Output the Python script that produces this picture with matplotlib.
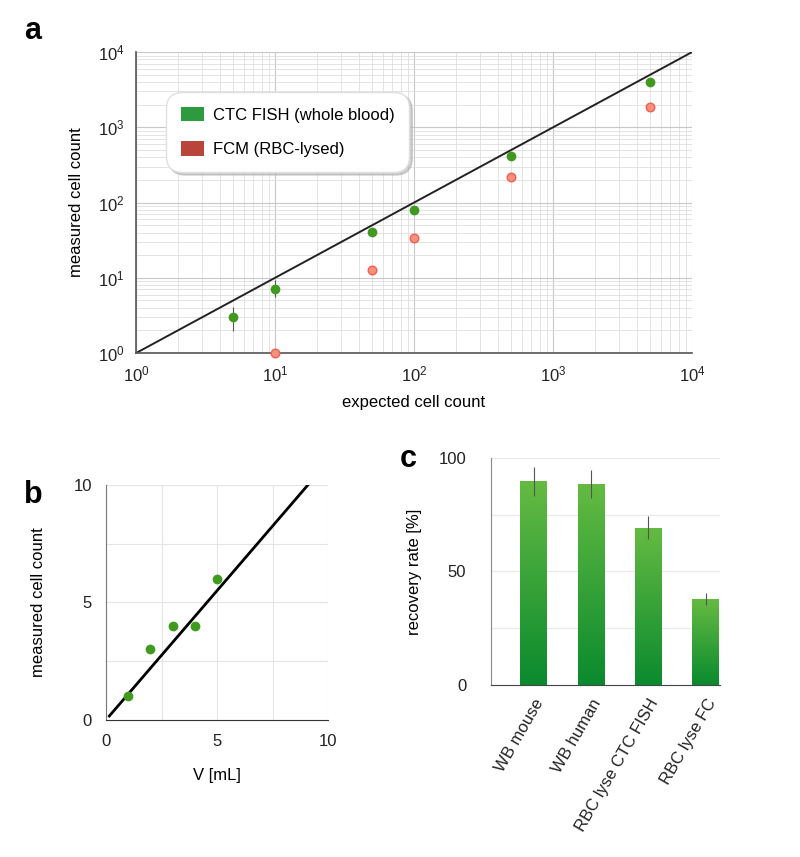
import numpy as np
import matplotlib
matplotlib.use("Agg")
import matplotlib.pyplot as plt
from matplotlib.patches import Patch
from matplotlib.colors import LinearSegmentedColormap

plt.rcParams['font.family'] = ['Liberation Sans', 'DejaVu Sans']
plt.rcParams['mathtext.fontset'] = 'custom'
plt.rcParams['mathtext.rm'] = 'Liberation Sans'

# panel a data
expected = [5, 10, 50, 100, 500, 5000]
fish_measured = [3.0, 7.2, 41, 80, 410, 3990]
fish_err_lo = [1.05, 1.6, 0, 0, 0, 0]
fish_err_hi = [1.1, 2.2, 0, 0, 0, 0]
fcm_expected = [10, 50, 100, 500, 5000]
fcm_measured = [1.0, 12.8, 33.7, 218, 1880]

# panel b data
volume = [1, 2, 3, 4, 5]
vol_count = [1, 3, 4, 4, 6]
fit_slope = 1.1

# panel c data
bar_labels = ['WB mouse', 'WB human', 'RBC lyse CTC FISH', 'RBC lyse FC']
recovery = [89.7, 88.6, 69.3, 37.8]
recovery_err = [6.3, 6.1, 4.9, 2.6]

green_pt = '#3f9a1e'
fcm_face = '#f8907f'
fcm_edge = '#f0604e'

fig = plt.figure(figsize=(8, 8.57), dpi=100)

# ---- panel a ----
ax = fig.add_axes([0.17, 0.588, 0.695, 0.3512])
ax.set_xscale('log')
ax.set_yscale('log')
ax.set_xlim(1, 1e4)
ax.set_ylim(1, 1e4)
ax.grid(True, which='major', color='#c8c8c8', lw=0.8)
ax.grid(True, which='minor', color='#dedede', lw=0.6)
ax.set_axisbelow(True)
ax.plot([1, 1e4], [1, 1e4], color='#222222', lw=1.4, zorder=2)
ax.errorbar(expected, fish_measured, yerr=[fish_err_lo, fish_err_hi], fmt='o',
            ms=6, color=green_pt, ecolor='#555555', elinewidth=0.8, capsize=0, zorder=4)
ax.scatter(fcm_expected, fcm_measured, s=38, facecolor=fcm_face, edgecolor=fcm_edge,
           lw=1.0, zorder=4, clip_on=False)
for s in ['top', 'right']:
    ax.spines[s].set_visible(False)
for s in ['left', 'bottom']:
    ax.spines[s].set_color('#555555')
    ax.spines[s].set_linewidth(1.2)
ax.tick_params(which='both', length=0, labelsize=12, colors='#222222', pad=8)
ax.set_xlabel('expected cell count', fontsize=12, labelpad=8)
ax.set_ylabel('measured cell count', fontsize=12, labelpad=10)
handles = [Patch(facecolor='#2e9a3e', label='CTC FISH (whole blood)'),
           Patch(facecolor='#b8443a', label='FCM (RBC-lysed)')]
leg = ax.legend(handles=handles, loc='upper left', bbox_to_anchor=(0.048, 0.88),
                fontsize=12, fancybox=True, framealpha=1,
                shadow={'color': '#b0b0b0', 'alpha': 0.6},
                edgecolor='#e0e0e0', borderpad=0.6, labelspacing=1.1,
                handlelength=1.4, handleheight=1.0, handletextpad=0.5)
leg.get_frame().set_boxstyle('round', pad=0.3, rounding_size=1.0)
fig.text(0.03, 0.955, 'a', fontsize=22, fontweight='bold')

# ---- panel b ----
bx = fig.add_axes([0.1325, 0.16, 0.2775, 0.274])
bx.set_xlim(0, 10)
bx.set_ylim(0, 10)
for v in [2.5, 5, 7.5, 10]:
    bx.axhline(v, color='#e4e4e4', lw=0.8, zorder=0)
    bx.axvline(v, color='#e4e4e4', lw=0.8, zorder=0)
xs = np.array([0.15, 10 / fit_slope])
bx.plot(xs, fit_slope * xs, color='black', lw=2, zorder=2)
bx.scatter(volume, vol_count, s=36, color=green_pt, zorder=3)
bx.set_xticks([0, 5, 10])
bx.set_yticks([0, 5, 10])
for s in ['top', 'right']:
    bx.spines[s].set_visible(False)
bx.spines['left'].set_color('#777777')
bx.spines['bottom'].set_color('#333333')
bx.tick_params(length=0, labelsize=12, pad=10, colors='#222222')
bx.set_xlabel('V [mL]', fontsize=12, labelpad=14)
bx.set_ylabel('measured cell count', fontsize=12, labelpad=20)
fig.text(0.03, 0.413, 'b', fontsize=22, fontweight='bold')

# ---- panel c ----
cx = fig.add_axes([0.614, 0.2007, 0.286, 0.265])
pos = np.arange(len(bar_labels))
for v in [25, 50, 75, 100]:
    cx.axhline(v, color='#e8e8e8', lw=0.8, zorder=0)
bars = cx.bar(pos, recovery, width=0.47, color='none', zorder=2)
cmap = LinearSegmentedColormap.from_list('g', ['#0a8a2e', '#65bb42'])
grad = np.linspace(0, 1, 256).reshape(-1, 1)
for b in bars:
    x0, w, h = b.get_x(), b.get_width(), b.get_height()
    im = cx.imshow(grad, cmap=cmap, origin='lower', aspect='auto',
                   extent=[x0, x0 + w, 0, h], zorder=2)
    im.set_clip_path(b)
cx.errorbar(pos, recovery, yerr=recovery_err, fmt='none', ecolor='#555555',
            elinewidth=0.8, capsize=0, zorder=3)
cx.set_xlim(-0.745, 3.25)
cx.set_ylim(0, 100)
cx.set_yticks([0, 50, 100])
cx.set_xticks(pos)
cx.set_xticklabels(bar_labels, rotation=60, ha='right', rotation_mode='anchor')
for s in ['top', 'right']:
    cx.spines[s].set_visible(False)
cx.spines['left'].set_color('#888888')
cx.spines['bottom'].set_color('#444444')
cx.tick_params(length=0, labelsize=12, colors='#222222')
cx.tick_params(axis='y', pad=18)
cx.tick_params(axis='x', pad=8)
cx.set_ylabel('recovery rate [%]', fontsize=12, labelpad=12)
fig.text(0.5, 0.455, 'c', fontsize=22, fontweight='bold')

fig.savefig('out.png', dpi=100)
